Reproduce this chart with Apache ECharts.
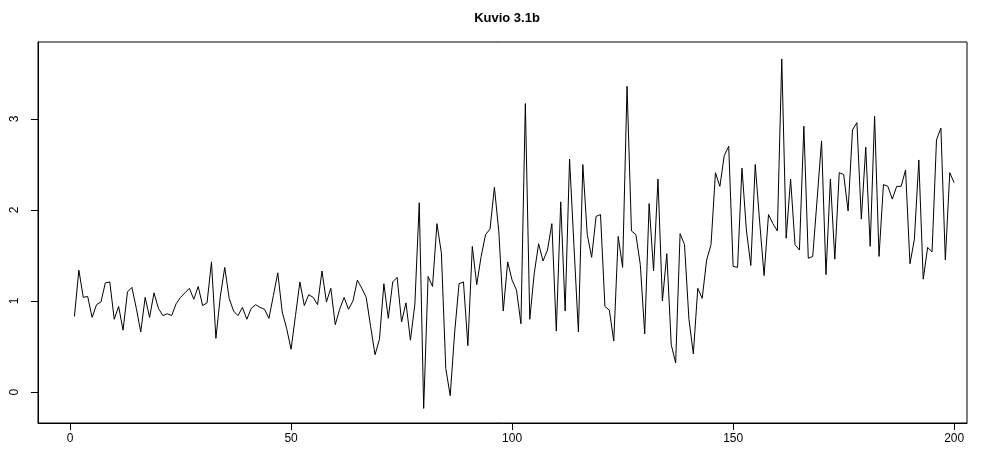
<!DOCTYPE html>
<html>
<head>
<meta charset="utf-8">
<script src="https://cdn.jsdelivr.net/npm/echarts@6/dist/echarts.min.js"></script>
<style>html,body{margin:0;padding:0;background:#fff}#c{width:983px;height:454px}</style>
</head>
<body>
<div id="c"></div>
<script>
const titleText = 'Kuvio 3.1b';
const xTicks = [0, 50, 100, 150, 200];
const yTicks = [0, 1, 2, 3];
const values = [
  0.83,1.34,1.04,1.05,0.82,0.96,0.99,1.20,1.21,0.80,
  0.94,0.68,1.10,1.15,0.92,0.66,1.04,0.82,1.09,0.92,
  0.84,0.86,0.84,0.97,1.04,1.09,1.14,1.02,1.16,0.95,
  0.98,1.43,0.59,1.05,1.37,1.03,0.89,0.84,0.93,0.80,
  0.92,0.96,0.93,0.91,0.81,1.06,1.31,0.88,0.70,0.47,
  0.84,1.21,0.95,1.07,1.04,0.96,1.33,0.99,1.14,0.74,
  0.91,1.04,0.91,1.00,1.23,1.14,1.04,0.72,0.41,0.58,
  1.19,0.81,1.21,1.26,0.77,0.98,0.57,0.96,2.08,-0.18,
  1.27,1.16,1.85,1.53,0.26,-0.04,0.65,1.19,1.21,0.51,
  1.60,1.18,1.49,1.73,1.79,2.25,1.76,0.89,1.43,1.23,
  1.12,0.75,3.17,0.80,1.30,1.63,1.44,1.56,1.85,0.67,
  2.09,0.89,2.56,1.60,0.66,2.50,1.73,1.48,1.93,1.95,
  0.94,0.90,0.56,1.71,1.37,3.36,1.77,1.73,1.40,0.64,
  2.07,1.33,2.34,1.00,1.52,0.52,0.32,1.74,1.62,0.80,
  0.42,1.14,1.03,1.45,1.62,2.41,2.26,2.60,2.70,1.38,
  1.37,2.46,1.78,1.39,2.50,1.87,1.28,1.95,1.85,1.77,
  3.66,1.69,2.34,1.62,1.56,2.92,1.47,1.49,2.12,2.76,
  1.29,2.34,1.46,2.41,2.39,1.99,2.88,2.96,1.90,2.69,
  1.60,3.03,1.49,2.28,2.26,2.12,2.26,2.26,2.44,1.41,
  1.68,2.55,1.24,1.59,1.54,2.77,2.90,1.45,2.41,2.30
];
const indices = values.map((v, i) => i + 1);
const seriesData = indices.map((x, i) => [x, values[i]]);

const font = "'Liberation Sans', Arial, Helvetica, sans-serif";
const chart = echarts.init(document.getElementById('c'), null, {renderer: 'canvas'});
chart.setOption({
  animation: false,
  backgroundColor: '#fff',
  title: {
    text: titleText,
    left: 502,
    textAlign: 'center',
    top: 7,
    textStyle: {fontFamily: font, fontSize: 13, fontWeight: 'bold', color: '#000'}
  },
  grid: {
    left: 38, right: 16, top: 42, bottom: 31,
    containLabel: false,
    show: true, borderColor: '#000', borderWidth: 1, backgroundColor: 'transparent'
  },
  xAxis: {
    type: 'value',
    min: -7.24, max: 202.9,
    splitLine: {show: false},
    axisLine: {show: true, onZero: false, lineStyle: {color: '#000', width: 1}},
    axisTick: {show: true, inside: false, length: 7, customValues: xTicks, lineStyle: {color: '#000'}},
    axisLabel: {show: true, customValues: xTicks, margin: 10, fontFamily: font, fontSize: 12, color: '#000'}
  },
  yAxis: {
    type: 'value',
    min: -0.34, max: 3.846,
    splitLine: {show: false},
    axisLine: {show: true, onZero: false, lineStyle: {color: '#000', width: 1}},
    axisTick: {show: true, inside: false, length: 7, customValues: yTicks, lineStyle: {color: '#000'}},
    axisLabel: {show: true, customValues: yTicks, rotate: 90, margin: 17, fontFamily: font, fontSize: 12, color: '#000'}
  },
  series: [{
    type: 'line',
    data: seriesData,
    showSymbol: false,
    symbol: 'none',
    lineStyle: {color: '#000', width: 1},
    silent: true
  }]
});
</script>
</body>
</html>
